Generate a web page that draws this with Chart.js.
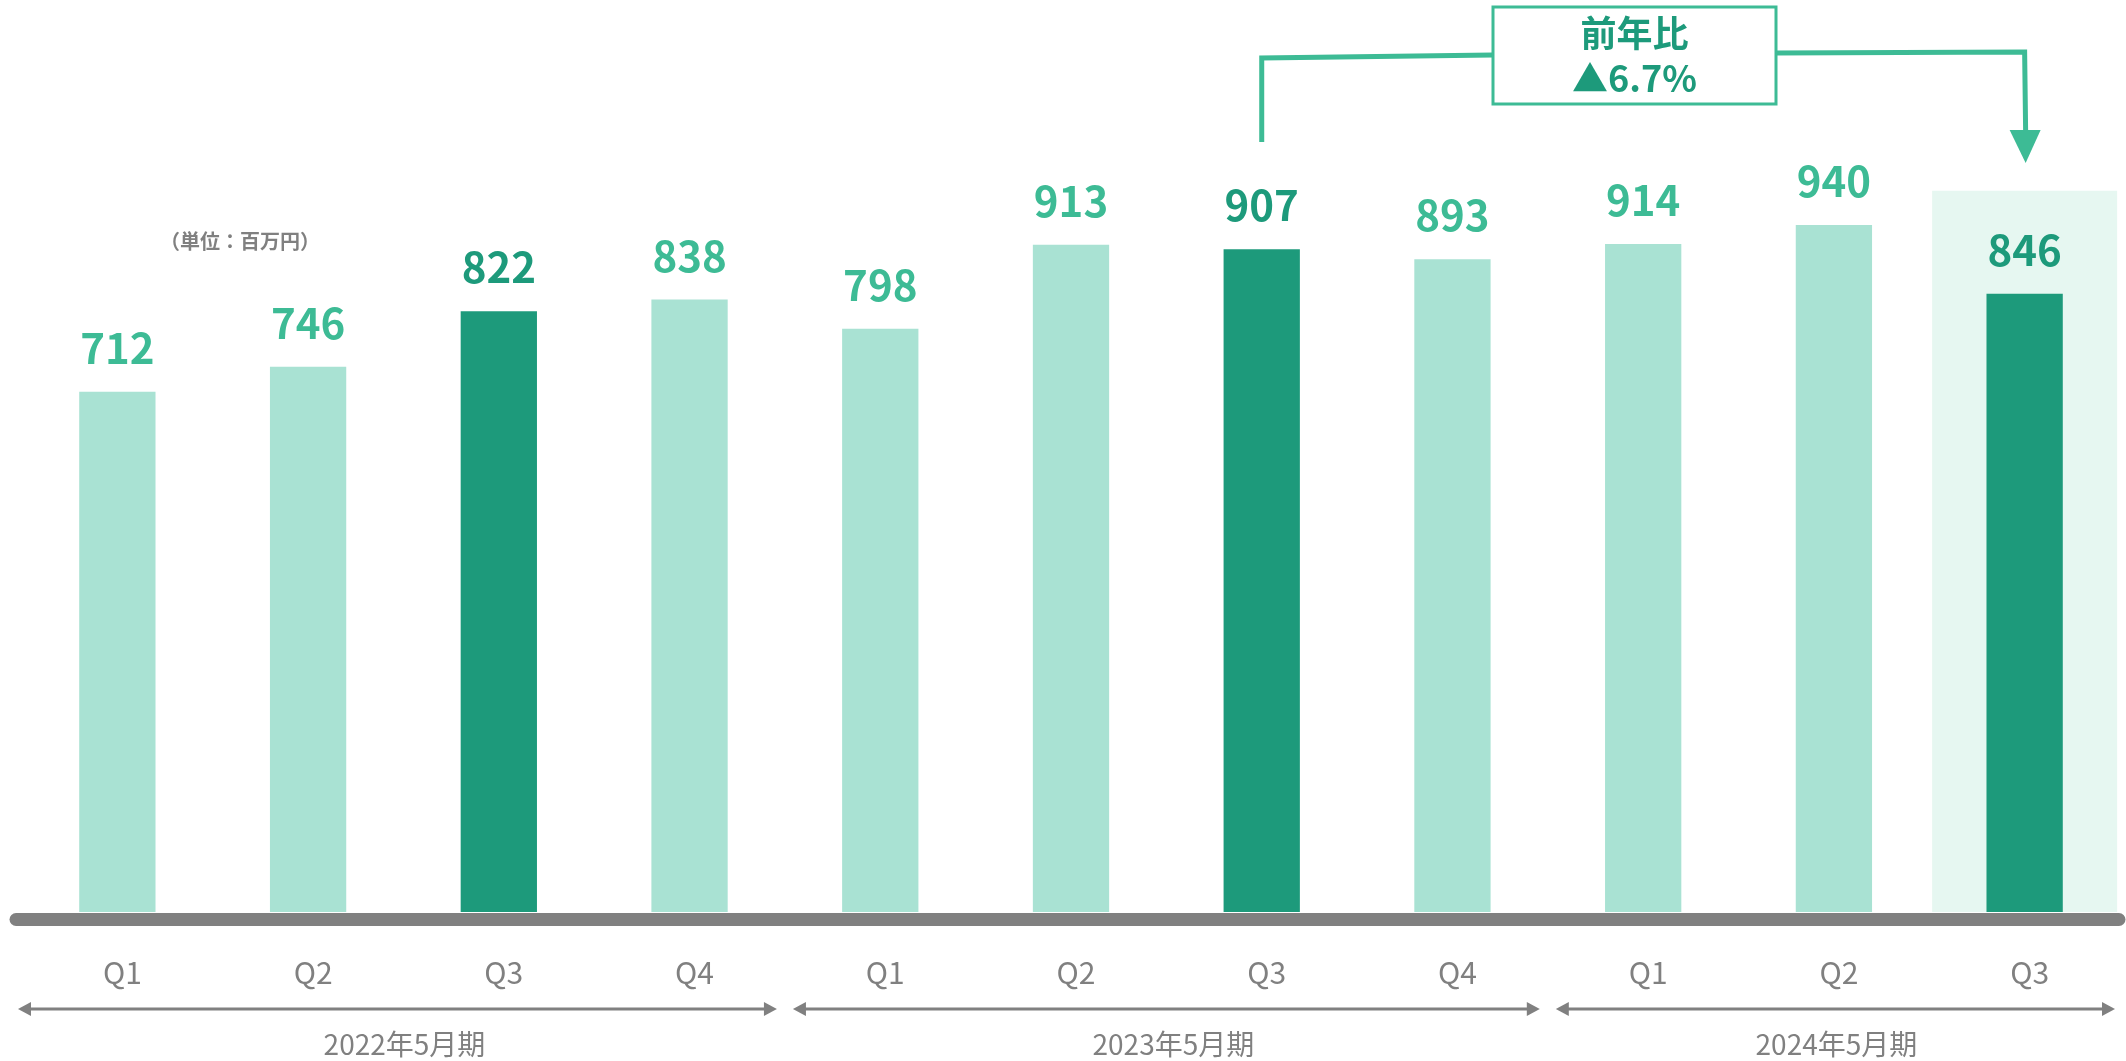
<!DOCTYPE html>
<html lang="ja">
<head>
<meta charset="utf-8">
<title>四半期売上高</title>
<script src="https://cdn.jsdelivr.net/npm/chart.js@4.4.1/dist/chart.umd.min.js"></script>
<style>
  html, body { margin: 0; padding: 0; background: #fff; }
  #wrap { width: 2126px; height: 1061px; position: relative; }
</style>
</head>
<body>
<div id="wrap"><canvas id="salesChart"></canvas></div>
<script>
// Data
const quarters = ['Q1', 'Q2', 'Q3', 'Q4', 'Q1', 'Q2', 'Q3', 'Q4', 'Q1', 'Q2', 'Q3'];
const sales = [712, 746, 822, 838, 798, 913, 907, 893, 914, 940, 846];
const darkBars = [2, 6, 10];
const fiscalYears = ['2022年5月期', '2023年5月期', '2024年5月期'];
const yearGroupSizes = [4, 4, 3];
const highlight = [null, null, null, null, null, null, null, null, null, null, 987];
const yoyTitle = '前年比';
const yoyValue = '▲6.7%';
const unitLabel = '（単位：百万円）';
const compareFrom = 6;
const compareTo = 10;

const FONT = '"Noto Sans CJK JP", "Noto Sans", sans-serif';
const LIGHT = '#A9E2D3';
const DARK = '#1D9A7B';
const MID = '#3DBB95';
const GRAY = '#808080';

const isDark = i => darkBars.includes(i);

// Value labels, axis line, year arrows, unit text
const decorPlugin = {
  id: 'decor',
  afterDatasetsDraw(chart) {
    const ctx = chart.ctx;
    const meta = chart.getDatasetMeta(0);
    ctx.save();
    ctx.font = `bold 42px ${FONT}`;
    ctx.textAlign = 'center';
    ctx.textBaseline = 'middle';
    meta.data.forEach((bar, i) => {
      ctx.fillStyle = isDark(i) ? DARK : MID;
      ctx.fillText(String(sales[i]), bar.x, bar.y - 44);
    });

    // base line
    ctx.strokeStyle = GRAY;
    ctx.lineWidth = 13;
    ctx.lineCap = 'round';
    ctx.beginPath();
    ctx.moveTo(16, 919.5);
    ctx.lineTo(2119, 919.5);
    ctx.stroke();

    // fiscal year arrows
    const x = chart.scales.x;
    const half = (x.getPixelForValue(1) - x.getPixelForValue(0)) / 2;
    let start = 0;
    ctx.lineCap = 'butt';
    yearGroupSizes.forEach((n, g) => {
      const last = g === yearGroupSizes.length - 1;
      const left = x.getPixelForValue(start) - half + (g === 0 ? -4 : 8);
      const right = x.getPixelForValue(start + n - 1) + half - (last ? 5 : 8);
      const y = 1009;
      ctx.strokeStyle = GRAY;
      ctx.fillStyle = GRAY;
      ctx.lineWidth = 3;
      ctx.beginPath();
      ctx.moveTo(left + 10, y);
      ctx.lineTo(right - 10, y);
      ctx.stroke();
      ctx.beginPath();
      ctx.moveTo(left, y);
      ctx.lineTo(left + 13, y - 7);
      ctx.lineTo(left + 13, y + 7);
      ctx.closePath();
      ctx.fill();
      ctx.beginPath();
      ctx.moveTo(right, y);
      ctx.lineTo(right - 13, y - 7);
      ctx.lineTo(right - 13, y + 7);
      ctx.closePath();
      ctx.fill();

      ctx.font = `28px ${FONT}`;
      ctx.fillText(fiscalYears[g], (left + right) / 2 + (last ? 1 : 7), 1044);
      start += n;
    });

    ctx.font = `bold 20px ${FONT}`;
    ctx.fillStyle = GRAY;
    ctx.fillText(unitLabel, 240, 241);
    ctx.restore();
  },
  afterDraw(chart) {
    // year-on-year bracket
    const ctx = chart.ctx;
    const x = chart.scales.x;
    const x1 = x.getPixelForValue(compareFrom);
    const x2 = x.getPixelForValue(compareTo);
    const boxL = 1493, boxR = 1776, boxT = 7, boxB = 104;
    ctx.save();
    ctx.strokeStyle = MID;
    ctx.fillStyle = MID;
    ctx.lineWidth = 5;
    ctx.beginPath();
    ctx.moveTo(x1, 142);
    ctx.lineTo(x1, 58);
    ctx.lineTo(boxL, 55);
    ctx.stroke();
    ctx.beginPath();
    ctx.moveTo(boxR, 53);
    ctx.lineTo(x2, 52);
    ctx.lineTo(x2 + 1, 132);
    ctx.stroke();
    ctx.beginPath();
    ctx.moveTo(x2 - 15, 130);
    ctx.lineTo(x2 + 16, 130);
    ctx.lineTo(x2 + 1, 163);
    ctx.closePath();
    ctx.fill();

    ctx.lineWidth = 3;
    ctx.fillStyle = '#fff';
    ctx.fillRect(boxL, boxT, boxR - boxL, boxB - boxT);
    ctx.strokeRect(boxL, boxT, boxR - boxL, boxB - boxT);

    ctx.fillStyle = DARK;
    ctx.font = `bold 36px ${FONT}`;
    ctx.textAlign = 'center';
    ctx.textBaseline = 'middle';
    const cx = (boxL + boxR) / 2;
    ctx.fillText(yoyTitle, cx, 33);
    ctx.fillText(yoyValue, cx, 78);
    ctx.restore();
  }
};

new Chart(document.getElementById('salesChart'), {
  type: 'bar',
  data: {
    labels: quarters,
    datasets: [{
      label: '売上高',
      data: sales,
      backgroundColor: sales.map((_, i) => isDark(i) ? DARK : LIGHT),
      barPercentage: 0.4,
      categoryPercentage: 1,
      grouped: false,
      order: 1
    }, {
      label: 'highlight',
      data: highlight,
      backgroundColor: '#E6F7F1',
      barPercentage: 0.97,
      categoryPercentage: 1,
      grouped: false,
      order: 2
    }]
  },
  options: {
    responsive: true,
    maintainAspectRatio: false,
    animation: false,
    layout: { padding: { left: 22, right: 6, top: 35, bottom: 0 } },
    plugins: {
      legend: { display: false },
      tooltip: { enabled: false }
    },
    scales: {
      x: {
        grid: { display: false, drawTicks: false },
        border: { display: false },
        ticks: {
          color: GRAY,
          padding: 43,
          labelOffset: 5,
          font: { family: FONT, size: 30 }
        },
        afterFit: axis => { axis.height = 149; }
      },
      y: {
        display: false,
        min: 0,
        max: 1200
      }
    }
  },
  plugins: [decorPlugin]
});
</script>
</body>
</html>
